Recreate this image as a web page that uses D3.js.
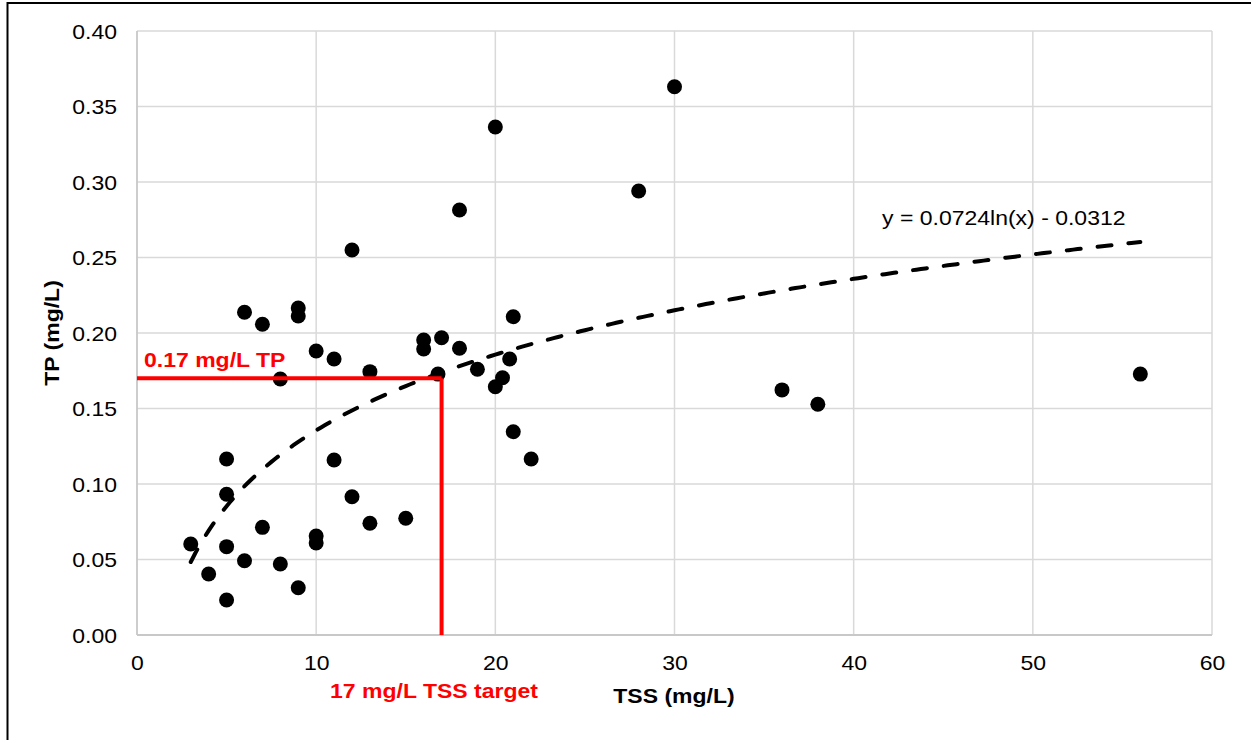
<!DOCTYPE html>
<html>
<head>
<meta charset="utf-8">
<script src="https://cdn.jsdelivr.net/npm/d3@7"></script>
<style>
  html, body { margin: 0; padding: 0; background: #fff; }
  svg { display: block; }
  text { font-family: "Liberation Sans", Arial, sans-serif; }
</style>
</head>
<body>
<svg id="chart" width="1251" height="740"></svg>
<script>
// TSS vs TP samples (mg/L)
const tss = [3, 4, 5, 5, 5, 5, 6, 6, 7, 7, 8, 8, 9, 9, 9, 10, 10, 10, 11, 11,
             12, 12, 13, 13, 15, 16, 16, 16.8, 17, 18, 18, 19, 20, 20, 20.4, 20.8,
             21, 21, 22, 28, 30, 36, 38, 56];
const tp  = [0.0603, 0.0404, 0.1166, 0.0932, 0.0585, 0.0232, 0.2137, 0.0492, 0.2058, 0.0713,
             0.1695, 0.0470, 0.2166, 0.2113, 0.0313, 0.1881, 0.0656, 0.0609, 0.1828, 0.1159,
             0.2550, 0.0916, 0.1744, 0.0740, 0.0773, 0.1954, 0.1894, 0.1728, 0.1969, 0.1899,
             0.2815, 0.1760, 0.3364, 0.1644, 0.1704, 0.1828, 0.2108, 0.1346, 0.1166, 0.2940,
             0.3631, 0.1623, 0.1528, 0.1728];

// Logarithmic trend line: y = a ln(x) + b
const trendA = 0.0724;
const trendB = -0.0312;
const trendRange = [3, 56];
const trendLabel = "y = 0.0724ln(x) - 0.0312";

// Target lines
const tssTarget = 17;
const tpTarget = 0.17;
const tssTargetLabel = "17 mg/L TSS target";
const tpTargetLabel = "0.17 mg/L TP";

// Axes
const xTicks = [0, 10, 20, 30, 40, 50, 60];
const yTicks = [0, 0.05, 0.10, 0.15, 0.20, 0.25, 0.30, 0.35, 0.40];
const xTitle = "TSS (mg/L)";
const yTitle = "TP (mg/L)";

const svg = d3.select("#chart");
const margin = { left: 137, top: 31, right: 1251 - 1212, bottom: 740 - 635 };
const W = 1251 - margin.left - margin.right;
const H = 740 - margin.top - margin.bottom;
const stretch = 1.15;     // glyphs are drawn slightly wide
const fontSize = 20;

const x = d3.scaleLinear().domain([0, 60]).range([0, W]);
const y = d3.scaleLinear().domain([0, 0.40]).range([H, 0]);

// Outer frame
svg.append("rect")
  .attr("x", 7.5).attr("y", 3).attr("width", 1300).attr("height", 800)
  .attr("fill", "none").attr("stroke", "#000").attr("stroke-width", 2);

const g = svg.append("g").attr("transform", `translate(${margin.left},${margin.top})`);

// Gridlines
g.append("g").selectAll("line").data(yTicks.filter(d => d > 0)).join("line")
  .attr("x1", 0).attr("x2", W)
  .attr("y1", d => y(d)).attr("y2", d => y(d))
  .attr("stroke", "#d9d9d9").attr("stroke-width", 1.5);
g.append("g").selectAll("line").data(xTicks.filter(d => d > 0)).join("line")
  .attr("y1", 0).attr("y2", H)
  .attr("x1", d => x(d)).attr("x2", d => x(d))
  .attr("stroke", "#d9d9d9").attr("stroke-width", 1.5);

// Axis lines
g.append("line").attr("x1", 0).attr("x2", W).attr("y1", H).attr("y2", H)
  .attr("stroke", "#c8c8c8").attr("stroke-width", 1.8);
g.append("line").attr("x1", 0).attr("x2", 0).attr("y1", 0).attr("y2", H)
  .attr("stroke", "#c8c8c8").attr("stroke-width", 1.8);

// Tick labels via d3 axes
const xAxis = g.append("g").attr("transform", `translate(0,${H})`)
  .call(d3.axisBottom(x).tickValues(xTicks).tickSize(0).tickFormat(d3.format("d")));
xAxis.select(".domain").remove();
xAxis.selectAll("text")
  .attr("y", 0).attr("dy", null)
  .attr("transform", `translate(0,35) scale(${stretch},1)`)
  .attr("font-size", fontSize).attr("fill", "#000")
  .style("font-family", '"Liberation Sans", Arial, sans-serif');

const yAxis = g.append("g")
  .call(d3.axisLeft(y).tickValues(yTicks).tickSize(0).tickFormat(d3.format(".2f")));
yAxis.select(".domain").remove();
yAxis.selectAll("text")
  .attr("x", 0).attr("dy", "0.35em")
  .attr("transform", `translate(-20,0) scale(${stretch},1)`)
  .attr("font-size", fontSize).attr("fill", "#000")
  .style("font-family", '"Liberation Sans", Arial, sans-serif');

// Data points
const pts = tss.map((v, i) => ({ x: v, y: tp[i] }));
g.append("g").selectAll("circle").data(pts).join("circle")
  .attr("cx", d => x(d.x)).attr("cy", d => y(d.y)).attr("r", 7.5)
  .attr("fill", "#000");

// Trend line
const trendPts = d3.range(trendRange[0], trendRange[1] + 0.001, 0.25)
  .map(v => ({ x: v, y: trendA * Math.log(v) + trendB }));
g.append("path").datum(trendPts)
  .attr("d", d3.line().x(d => x(d.x)).y(d => y(d.y)))
  .attr("fill", "none").attr("stroke", "#000").attr("stroke-width", 4)
  .attr("stroke-dasharray", "14,17").attr("stroke-linecap", "round");

// Target lines
g.append("line")
  .attr("x1", x(0)).attr("x2", x(tssTarget))
  .attr("y1", y(tpTarget)).attr("y2", y(tpTarget))
  .attr("stroke", "#ff0000").attr("stroke-width", 4);
g.append("line")
  .attr("x1", x(tssTarget)).attr("x2", x(tssTarget))
  .attr("y1", y(tpTarget)).attr("y2", y(0))
  .attr("stroke", "#ff0000").attr("stroke-width", 4);

// Text helper
function label(txt, px, py, opts = {}) {
  const t = svg.append("text")
    .attr("transform", `translate(${px},${py}) rotate(${opts.rotate || 0}) scale(${stretch},1)`)
    .attr("text-anchor", opts.anchor || "start")
    .attr("font-size", opts.size || fontSize)
    .attr("font-weight", opts.bold ? "bold" : "normal")
    .attr("fill", opts.color || "#000")
    .text(txt);
  return t;
}

label(trendLabel, 882, 225);
label(tpTargetLabel, 144, 367, { bold: true, color: "#ff0000" });
label(tssTargetLabel, 434, 698, { bold: true, color: "#ff0000", anchor: "middle" });
label(xTitle, 674, 703, { bold: true, anchor: "middle" });
label(yTitle, 59, 333, { bold: true, anchor: "middle", rotate: -90 });
</script>
</body>
</html>
